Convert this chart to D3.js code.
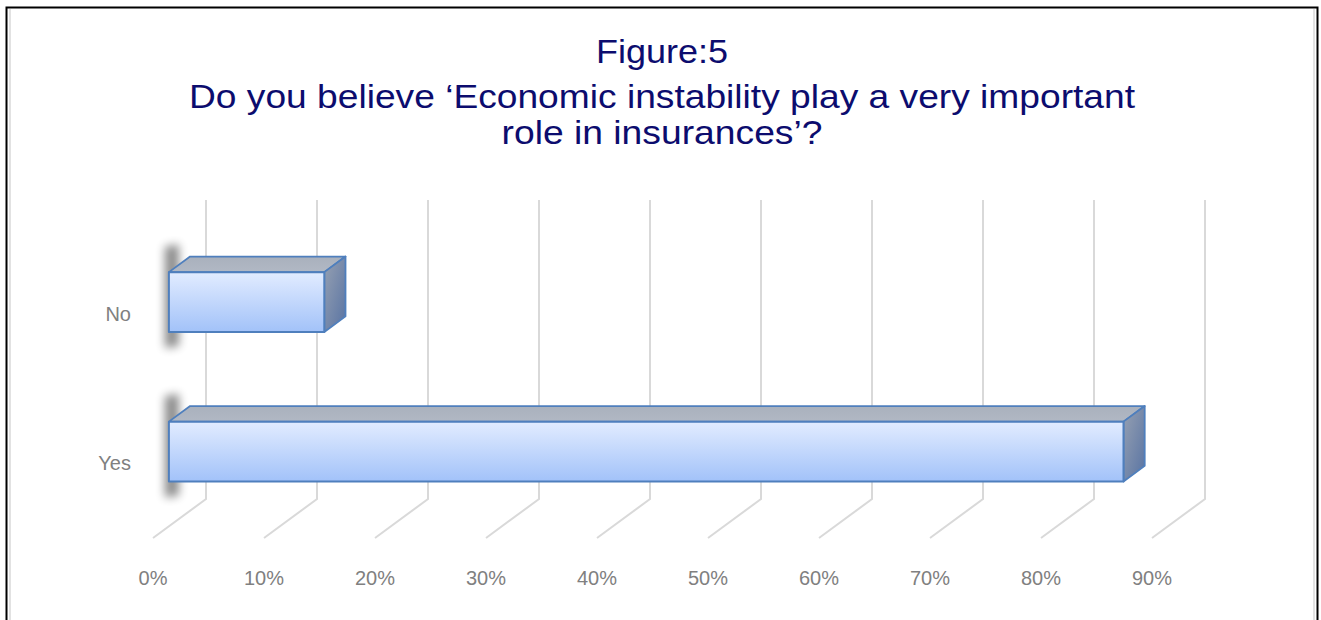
<!DOCTYPE html>
<html>
<head>
<meta charset="utf-8">
<script src="https://cdn.jsdelivr.net/npm/d3@7"></script>
<style>
  html, body { margin: 0; padding: 0; background: #fff; }
  svg { display: block; }
</style>
</head>
<body>
<svg id="chart" width="1321" height="620"></svg>
<script>
// ---- data ----
const categories = ["No", "Yes"];
const values = [0.14, 0.86];
const tickValues = [0, 0.1, 0.2, 0.3, 0.4, 0.5, 0.6, 0.7, 0.8, 0.9];
const tickLabels = ["0%", "10%", "20%", "30%", "40%", "50%", "60%", "70%", "80%", "90%"];
const titleLines = ["Figure:5", "Do you believe \u2018Economic instability play a very important", "role in insurances\u2019?"];

// ---- layout ----
const svg = d3.select("#chart");
const W = 1321, H = 620;
const backTop = 200, backBottom = 499;
const depthDx = -53, depthDy = 39;       // full depth projection vector
const barD0 = 0.3, barD1 = 0.7;          // bar depth span (0 = back wall, 1 = front)

const x = d3.scaleLinear().domain([0, 0.9]).range([206, 1205]);
const y = d3.scaleBand().domain(categories).range([backTop, backBottom])
  .paddingInner(0.6).paddingOuter(0.3);
const proj = (px, py, d) => [px + depthDx * d, py + depthDy * d];

// frame
svg.append("rect").attr("x", 0).attr("y", 0).attr("width", W).attr("height", H).attr("fill", "#fff");
svg.append("line").attr("x1", 10).attr("x2", 10).attr("y1", 9).attr("y2", H).attr("stroke", "#d9d9d9").attr("stroke-width", 1.5);
svg.append("line").attr("x1", 1314).attr("x2", 1314).attr("y1", 9).attr("y2", H).attr("stroke", "#d9d9d9").attr("stroke-width", 1.5);
svg.append("path").attr("d", `M6.5,${H} L6.5,7.5 L1317.5,7.5 L1317.5,${H}`)
  .attr("fill", "none").attr("stroke", "#000").attr("stroke-width", 2);

// defs
const defs = svg.append("defs");
const gFront = defs.append("linearGradient").attr("id", "gFront").attr("x1", 0).attr("y1", 0).attr("x2", 0).attr("y2", 1);
gFront.append("stop").attr("offset", "0%").attr("stop-color", "#e2ecff");
gFront.append("stop").attr("offset", "100%").attr("stop-color", "#a2c2f9");
const gSide = defs.append("linearGradient").attr("id", "gSide").attr("x1", 0).attr("y1", 0).attr("x2", 1).attr("y2", 1);
gSide.append("stop").attr("offset", "0%").attr("stop-color", "#97a1b2");
gSide.append("stop").attr("offset", "100%").attr("stop-color", "#5873a3");
const gTop = defs.append("linearGradient").attr("id", "gTop").attr("x1", 0).attr("y1", 0).attr("x2", 0).attr("y2", 1);
gTop.append("stop").attr("offset", "0%").attr("stop-color", "#a9b1bd");
gTop.append("stop").attr("offset", "100%").attr("stop-color", "#b1b8c4");
const blur = defs.append("filter").attr("id", "shadow").attr("x", "-200%").attr("y", "-50%").attr("width", "500%").attr("height", "200%");
blur.append("feGaussianBlur").attr("stdDeviation", 5);

// gridlines (back wall + floor)
const grid = svg.append("g").attr("stroke", "#d9d9d9").attr("stroke-width", 2).attr("fill", "none");
grid.selectAll("path").data(tickValues).join("path")
  .attr("d", v => {
    const [fx, fy] = proj(x(v), backBottom, 1);
    return `M${x(v)},${backTop} L${x(v)},${backBottom} L${fx},${fy}`;
  });

// tick labels
svg.append("g").selectAll("text").data(tickValues).join("text")
  .attr("x", v => proj(x(v), backBottom, 1)[0])
  .attr("y", 585)
  .attr("text-anchor", "middle")
  .attr("font-family", "'Liberation Sans', Arial, sans-serif")
  .attr("font-size", 20)
  .attr("fill", "#808080")
  .text((v, i) => tickLabels[i]);

// category labels
svg.append("g").selectAll("text").data(categories).join("text")
  .attr("x", proj(x(0), 0, 1)[0] - 22)
  .attr("y", c => proj(0, y(c) + y.bandwidth() / 2, 1)[1])
  .attr("dy", "0.35em")
  .attr("text-anchor", "end")
  .attr("font-family", "'Liberation Sans', Arial, sans-serif")
  .attr("font-size", 20)
  .attr("fill", "#808080")
  .text(c => c);

// bars
const bars = svg.append("g");
categories.forEach((c, i) => {
  const v = values[i];
  const y0 = y(c), y1 = y(c) + y.bandwidth();
  const x0 = x(0), x1 = x(v);
  const fTL = proj(x0, y0, barD1), fTR = proj(x1, y0, barD1), fBR = proj(x1, y1, barD1), fBL = proj(x0, y1, barD1);
  const bTL = proj(x0, y0, barD0), bTR = proj(x1, y0, barD0), bBR = proj(x1, y1, barD0);
  const g = bars.append("g");
  // soft shadow on the left side
  g.append("path")
    .attr("d", `M${fTL[0] - 4},${bTL[1] - 10} L${fTL[0] + 10},${bTL[1] - 12} L${fTL[0] + 10},${fBL[1] + 14} L${fTL[0] - 4},${fBL[1] + 16} Z`)
    .attr("fill", "#000").attr("opacity", 0.45)
    .attr("filter", "url(#shadow)");
  const stroke = "#4f7fbd";
  g.append("path").attr("d", `M${fTL}L${bTL}L${bTR}L${fTR}Z`)
    .attr("fill", "url(#gTop)").attr("stroke", stroke).attr("stroke-width", 1.8).attr("stroke-linejoin", "round");
  g.append("path").attr("d", `M${fTR}L${bTR}L${bBR}L${fBR}Z`)
    .attr("fill", "url(#gSide)").attr("stroke", stroke).attr("stroke-width", 1.8).attr("stroke-linejoin", "round");
  g.append("path").attr("d", `M${fTL}L${fTR}L${fBR}L${fBL}Z`)
    .attr("fill", "url(#gFront)").attr("stroke", stroke).attr("stroke-width", 2).attr("stroke-linejoin", "round");
});

// title
const titleY = [63, 108, 144];
const titleLen = [132, 946, 321];
svg.append("g").selectAll("text").data(titleLines).join("text")
  .attr("x", 662)
  .attr("y", (d, i) => titleY[i])
  .attr("text-anchor", "middle")
  .attr("font-family", "'Liberation Sans', Arial, sans-serif")
  .attr("font-size", 34)
  .attr("fill", "#0c0c6e")
  .attr("textLength", (d, i) => titleLen[i])
  .attr("lengthAdjust", "spacingAndGlyphs")
  .text(d => d);
</script>
</body>
</html>
